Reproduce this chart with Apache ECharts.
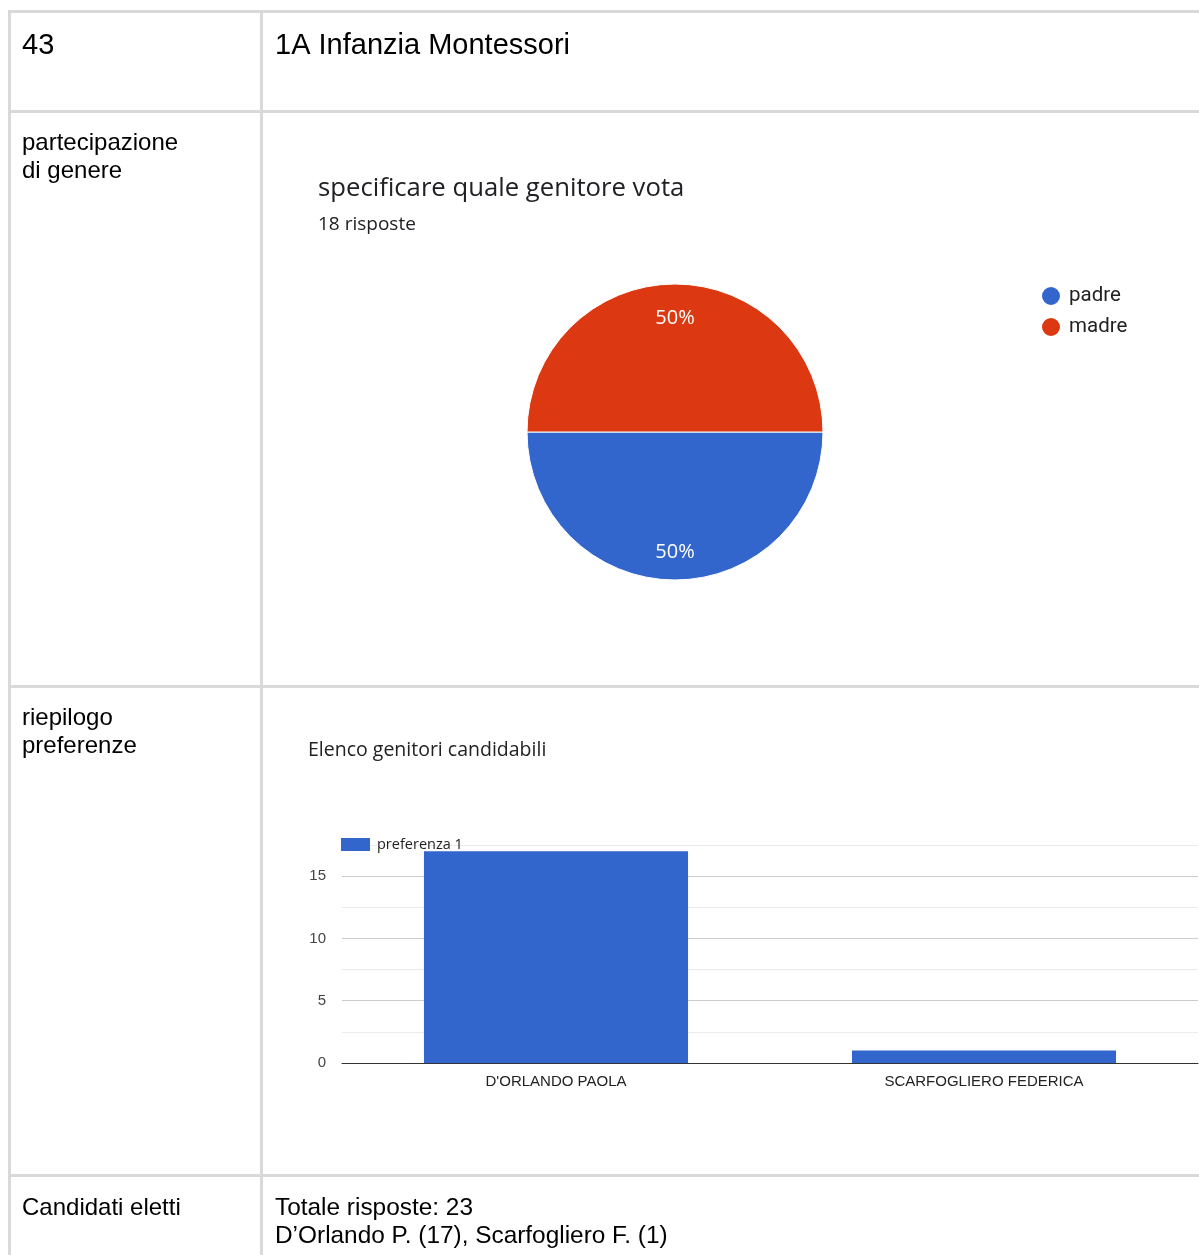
<!DOCTYPE html>
<html>
<head>
<meta charset="utf-8">
<script src="https://cdn.jsdelivr.net/npm/echarts@6/dist/echarts.min.js"></script>
<style>
html,body{margin:0;padding:0;background:#fff;}
#c{width:1199px;height:1255px;}
</style>
</head>
<body>
<div id="c"></div>
<script>
// ---- data ----
const rowNumber = '43';
const className = '1A Infanzia Montessori';
const rowLabels = [['partecipazione', 'di genere'], ['riepilogo', 'preferenze'], ['Candidati eletti']];
const pieTitle = 'specificare quale genitore vota';
const pieSubtitle = '18 risposte';
const pieNames = ['padre', 'madre'];
const pieValues = [9, 9];
const barTitle = 'Elenco genitori candidabili';
const barSeriesName = 'preferenza 1';
const barCategories = ["D'ORLANDO PAOLA", 'SCARFOGLIERO FEDERICA'];
const barValues = [17, 1];
const yTickLabels = [0, 5, 10, 15];
const summaryLines = ['Totale risposte: 23', 'D\u2019Orlando P. (17), Scarfogliero F. (1)'];

// ---- chart ----
const chart = echarts.init(document.getElementById('c'), null, {renderer: 'canvas'});
const lineColor = '#d9d9d9';
const tableFont = 'Liberation Sans, Arial, sans-serif';

function hLine(y) { return {type: 'rect', shape: {x: 8, y: y, width: 1191, height: 3}, style: {fill: lineColor}, silent: true}; }
function vLine(x) { return {type: 'rect', shape: {x: x, y: 10, width: 3, height: 1245}, style: {fill: lineColor}, silent: true}; }
function txt(t, x, y, size) {
  return {type: 'text', x: x, y: y, silent: true,
    style: {text: t, font: size + 'px ' + tableFont, fill: '#000', textVerticalAlign: 'middle', verticalAlign: 'middle'}};
}

const graphics = [
  hLine(10), hLine(110), hLine(685), hLine(1174),
  vLine(8), vLine(260),
  txt(rowNumber, 22, 46, 29),
  txt(className, 275, 46, 29),
  txt(rowLabels[0][0], 22, 143, 24),
  txt(rowLabels[0][1], 22, 171, 24),
  txt(rowLabels[1][0], 22, 718, 24),
  txt(rowLabels[1][1], 22, 746, 24),
  txt(rowLabels[2][0], 22, 1208, 24),
  txt(summaryLines[0], 275, 1208, 24.4),
  txt(summaryLines[1], 275, 1236, 24.4)
];

const option = {
  backgroundColor: '#fff',
  animation: false,
  graphic: graphics,
  title: [
    {text: pieTitle, subtext: pieSubtitle, left: 313, top: 171, itemGap: 13,
      textStyle: {fontFamily: 'Open Sans, Roboto, sans-serif', fontSize: 25.7, fontWeight: 'normal', color: '#202124'},
      subtextStyle: {fontFamily: 'Open Sans, Roboto, sans-serif', fontSize: 19, color: '#202124'}},
    {text: barTitle, left: 303, top: 735,
      textStyle: {fontFamily: 'Open Sans, Roboto, sans-serif', fontSize: 19.5, fontWeight: 'normal', color: '#222'}}
  ],
  legend: [
    {data: pieNames, orient: 'vertical', left: 1035, top: 280, icon: 'circle',
      itemWidth: 20, itemHeight: 20, itemGap: 9,
      textStyle: {fontFamily: 'Roboto, sans-serif', fontSize: 20.5, color: '#222', padding: [0, 0, 0, 3]}},
    {data: [barSeriesName], left: 336, top: 832, icon: 'rect', itemWidth: 29, itemHeight: 13,
      textStyle: {fontFamily: 'Open Sans, Roboto, sans-serif', fontSize: 14.5, color: '#222', padding: [0, 0, 0, 2]}}
  ],
  color: ['#3366cc', '#dc3912'],
  grid: {left: 342, right: 1, top: 845, bottom: 192, containLabel: false},
  xAxis: {
    type: 'category', data: barCategories,
    axisLine: {lineStyle: {color: '#333', width: 1}},
    axisTick: {show: false},
    axisLabel: {fontFamily: 'Liberation Sans, Arial, sans-serif', fontSize: 15, color: '#222', margin: 11}
  },
  yAxis: {
    type: 'value', min: 0, max: 17.5, interval: 2.5,
    axisLine: {show: false}, axisTick: {show: false},
    axisLabel: {fontFamily: 'Liberation Sans, Arial, sans-serif', fontSize: 15, color: '#444', margin: 16,
      formatter: function (v) { return yTickLabels.indexOf(v) >= 0 ? String(v) : ''; }},
    splitLine: {lineStyle: {color: ['#cccccc', '#ebebeb'], width: 1}}
  },
  series: [
    {type: 'pie', name: 'genitore', center: [675, 432], radius: 148, startAngle: 0, clockwise: true,
      data: pieNames.map((n, i) => ({name: n, value: pieValues[i]})),
      itemStyle: {borderColor: '#fff', borderWidth: 1},
      label: {show: true, position: 'inside', formatter: '{d}%', color: '#fff',
        fontFamily: 'Open Sans, Roboto, sans-serif', fontSize: 20},
      labelLayout: function (p) { return {dy: p.dataIndex === 0 ? 43 : -37}; },
      labelLine: {show: false},
      emphasis: {disabled: true}, silent: true},
    {type: 'bar', name: barSeriesName, data: barValues, barWidth: '61.7%',
      itemStyle: {color: '#3366cc'}, silent: true}
  ]
};
chart.setOption(option);
</script>
</body>
</html>
